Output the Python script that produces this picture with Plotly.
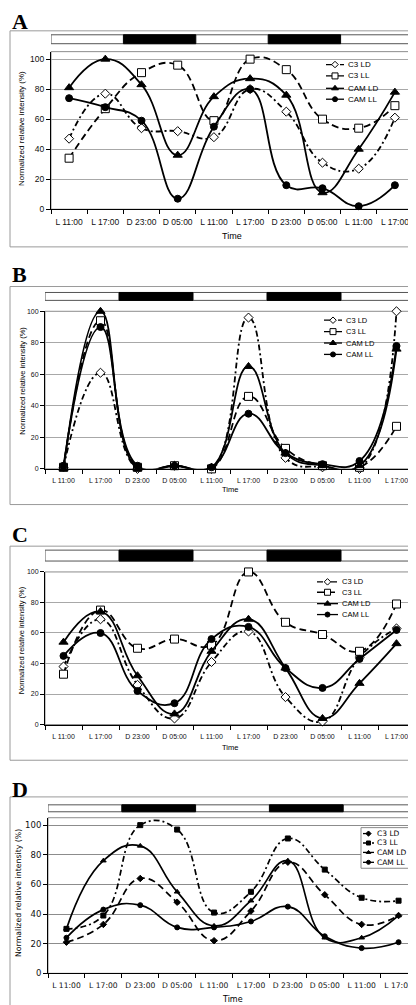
import plotly.graph_objects as go

W, H = 416, 1005

cats = ["L 11:00", "L 17:00", "D 23:00", "D 05:00", "L 11:00",
        "L 17:00", "D 23:00", "D 05:00", "L 11:00", "L 17:00"]
series_names = ["C3 LD", "C3 LL", "CAM LD", "CAM LL"]
y_ticks = [0, 20, 40, 60, 80, 100]

# Panel A
a_c3_ld = [47, 77, 54, 52, 48, 80, 65, 31, 27, 61]
a_c3_ll = [34, 67, 91, 96, 59, 100, 93, 60, 54, 69]
a_cam_ld = [81, 100, 83, 36, 75, 87, 76, 11, 40, 78]
a_cam_ll = [74, 68, 59, 7, 55, 80, 16, 14, 2, 16]
# Panel B
b_c3_ld = [1, 61, 0, 2, 0, 96, 7, 1, 0, 100]
b_c3_ll = [1, 94, 1, 2, 0, 46, 13, 2, 1, 27]
b_cam_ld = [0, 100, 0, 2, 1, 65, 10, 2, 2, 76]
b_cam_ll = [2, 90, 2, 2, 1, 35, 10, 3, 5, 78]
# Panel C
c_c3_ld = [38, 69, 26, 4, 41, 61, 18, 2, 44, 63]
c_c3_ll = [33, 75, 50, 56, 52, 100, 67, 59, 48, 79]
c_cam_ld = [54, 74, 32, 7, 48, 69, 37, 4, 27, 53]
c_cam_ll = [45, 60, 22, 14, 56, 64, 37, 24, 43, 62]
# Panel D
d_c3_ld = [21, 33, 64, 48, 22, 42, 75, 53, 33, 39]
d_c3_ll = [30, 39, 100, 97, 41, 55, 91, 70, 51, 49]
d_cam_ld = [30, 76, 86, 55, 32, 49, 76, 24, 24, 39]
d_cam_ll = [24, 43, 46, 31, 31, 35, 45, 25, 17, 21]

xs = list(range(len(cats)))

style_big = {
    "C3 LD": dict(dash="6px,3px,2px,3px", symbol="diamond", size=7, fill="white", width=1.8),
    "C3 LL": dict(dash="7px,4px", symbol="square", size=8, fill="white", width=1.8),
    "CAM LD": dict(dash="solid", symbol="triangle-up", size=8, fill="black", width=1.8),
    "CAM LL": dict(dash="solid", symbol="circle", size=7, fill="black", width=1.8),
}
style_small = {
    "C3 LD": dict(dash="7px,4px", symbol="diamond", size=5, fill="black", width=1.7),
    "C3 LL": dict(dash="6px,3px,2px,3px", symbol="square", size=5, fill="black", width=1.7),
    "CAM LD": dict(dash="solid", symbol="triangle-up", size=5, fill="black", width=1.7),
    "CAM LL": dict(dash="solid", symbol="circle", size=5, fill="black", width=1.7),
}

panels = [
    dict(letter="A", data=[a_c3_ld, a_c3_ll, a_cam_ld, a_cam_ll], plot=(43, 405, 40, 199), ymax=105,
         box=(19, 237), bar=(23, 32), letter_y=10, time_y=226, ytitle=(14, 118),
         font="Liberation Sans", tick=8.5, ytick=8.5, ttl=8, time=9, leg=8, style=style_big,
         legend=dict(x0=318, x1=336, tx=338, ys=[53, 64.5, 77, 88], box=None), grid="#a8a8a8"),
    dict(letter="B", data=[b_c3_ld, b_c3_ll, b_cam_ld, b_cam_ll], plot=(37, 407, 302, 461), ymax=100,
         box=(277, 497), bar=(283, 291), letter_y=265, time_y=482, ytitle=(15, 372),
         font="Liberation Sans", tick=7, ytick=7, ttl=7.5, time=7.5, leg=7.5, style=style_big,
         legend=dict(x0=316, x1=334, tx=336, ys=[311, 322.5, 334, 345.5], box=None), grid="#a8a8a8"),
    dict(letter="C", data=[c_c3_ld, c_c3_ll, c_cam_ld, c_cam_ll], plot=(37, 407, 565, 719), ymax=100,
         box=(539, 755), bar=(543, 554), letter_y=527, time_y=742, ytitle=(13, 634),
         font="Liberation Sans", tick=7, ytick=7, ttl=7.5, time=7.5, leg=7.5, style=style_big,
         legend=dict(x0=309, x1=330, tx=332, ys=[575, 585.5, 597, 608], box=None), grid="#a8a8a8"),
    dict(letter="D", data=[d_c3_ld, d_c3_ll, d_cam_ld, d_cam_ll], plot=(40, 409, 813, 970), ymax=105,
         box=(792, 1003), bar=(800, 807), letter_y=785, time_y=996, ytitle=(10, 889),
         font="DejaVu Sans", tick=7.6, ytick=8.5, ttl=7.8, time=8, leg=7.5, style=style_small,
         legend=dict(x0=355, x1=366, tx=367, ys=[829, 838.5, 848, 858], box=(353, 402, 823, 864)), grid="#8c8c8c"),
]

fig = go.Figure()

OV_X, OV_Y = "x5", "y5"
layout = dict(
    width=W, height=H, margin=dict(l=0, r=0, t=0, b=0),
    paper_bgcolor="white", plot_bgcolor="rgba(0,0,0,0)", showlegend=False,
    xaxis5=dict(domain=[0, 1], range=[0, W], visible=False, anchor="y5", fixedrange=True),
    yaxis5=dict(domain=[0, 1], range=[H, 0], visible=False, anchor="x5", fixedrange=True),
)
shapes = []
annotations = []
overlay_traces = []

# contiguous dark periods from the category labels
dark_runs = []
k = 0
while k < len(cats):
    if cats[k].startswith("D"):
        s = k
        while k + 1 < len(cats) and cats[k + 1].startswith("D"):
            k += 1
        dark_runs.append((s - 0.5, k + 0.5))
    k += 1

for i, p in enumerate(panels):
    n = i + 1
    xa = "xaxis" if n == 1 else f"xaxis{n}"
    ya = "yaxis" if n == 1 else f"yaxis{n}"
    xr = "x" if n == 1 else f"x{n}"
    yr = "y" if n == 1 else f"y{n}"
    x0, x1, y0, y1 = p["plot"]
    font = p["font"]
    layout[xa] = dict(
        domain=[x0 / W, x1 / W], anchor=yr, range=[-0.5, len(cats) - 0.5],
        tickmode="array", tickvals=xs, ticktext=cats, ticks="", showgrid=False,
        showline=True, linecolor="black", linewidth=1, zeroline=False, tickangle=0,
        tickfont=dict(family=font, size=p["tick"], color="#111"), ticklabelstandoff=5,
        minor=dict(tickvals=[k - 0.5 for k in range(len(cats) + 1)], ticks="outside",
                   ticklen=4, tickcolor="black", showgrid=False),
        fixedrange=True,
    )
    layout[ya] = dict(
        domain=[1 - y1 / H, 1 - y0 / H], anchor=xr, range=[0, p["ymax"]],
        tickmode="array", tickvals=y_ticks, ticks="outside", ticklen=4, tickcolor="black",
        showgrid=True, gridcolor=p["grid"], gridwidth=1, zeroline=False,
        showline=True, linecolor="black", linewidth=1,
        tickfont=dict(family=font, size=p["ytick"], color="#111"), fixedrange=True,
    )
    # plot-area border
    shapes.append(dict(type="rect", xref=f"{xr} domain", yref=f"{yr} domain", x0=0, x1=1, y0=0, y1=1,
                       line=dict(color="#8c8c8c", width=1), layer="below"))
    # outer box
    bt, bb = p["box"]
    shapes.append(dict(type="rect", xref=OV_X, yref=OV_Y, x0=2, x1=414, y0=bt, y1=bb,
                       line=dict(color="#9a9a9a", width=1)))
    # light/dark bar
    r0, r1 = p["bar"]
    shapes.append(dict(type="rect", xref=xr, yref=OV_Y, x0=-0.5, x1=len(cats) - 0.5, y0=r0, y1=r1,
                       line=dict(color="#555", width=1), fillcolor="white"))
    for (d0, d1) in dark_runs:
        shapes.append(dict(type="rect", xref=xr, yref=OV_Y, x0=d0, x1=d1, y0=r0, y1=r1,
                           line=dict(color="black", width=1), fillcolor="black"))
    # data traces
    for name, vals in zip(series_names, p["data"]):
        st = p["style"][name]
        fig.add_trace(go.Scatter(
            x=xs, y=vals, xaxis=xr, yaxis=yr, name=name, mode="lines+markers",
            line=dict(color="black", width=st["width"], dash=st["dash"], shape="spline", smoothing=1.3),
            marker=dict(symbol=st["symbol"], size=st["size"], color=st["fill"],
                        line=dict(color="black", width=1)),
            cliponaxis=False, hoverinfo="skip",
        ))
    # legend (manual, compact)
    lg = p["legend"]
    if lg["box"]:
        bx0, bx1, by0, by1 = lg["box"]
        overlay_traces.append(go.Scatter(
            x=[bx0, bx1, bx1, bx0, bx0], y=[by0, by0, by1, by1, by0], xaxis=OV_X, yaxis=OV_Y,
            mode="lines", fill="toself", fillcolor="white", line=dict(color="#888", width=1),
            hoverinfo="skip"))
    for name, ly in zip(series_names, lg["ys"]):
        st = p["style"][name]
        overlay_traces.append(go.Scatter(
            x=[lg["x0"], lg["x1"]], y=[ly, ly], xaxis=OV_X, yaxis=OV_Y, mode="lines",
            line=dict(color="black", width=1.3, dash=st["dash"]), hoverinfo="skip"))
        overlay_traces.append(go.Scatter(
            x=[(lg["x0"] + lg["x1"]) / 2], y=[ly], xaxis=OV_X, yaxis=OV_Y, mode="markers",
            marker=dict(symbol=st["symbol"], size=max(st["size"] - 2, 4), color=st["fill"],
                        line=dict(color="black", width=1)), hoverinfo="skip"))
        annotations.append(dict(xref=OV_X, yref=OV_Y, x=lg["tx"], y=ly, text=name, showarrow=False,
                                xanchor="left", yanchor="middle",
                                font=dict(family=font, size=p["leg"], color="black")))
    # letter
    annotations.append(dict(xref=OV_X, yref=OV_Y, x=2, y=p["letter_y"], text=f"<b>{p['letter']}</b>",
                            showarrow=False, xanchor="left", yanchor="middle",
                            font=dict(family="Liberation Serif", size=22, color="black")))
    # axis titles
    annotations.append(dict(xref=OV_X, yref=OV_Y, x=(x0 + x1) / 2, y=p["time_y"], text="Time",
                            showarrow=False, xanchor="center", yanchor="middle",
                            font=dict(family=font, size=p["time"], color="black")))
    annotations.append(dict(xref=OV_X, yref=OV_Y, x=p["ytitle"][0], y=p["ytitle"][1],
                            text="Normalized relative intensity (%)", textangle=-90,
                            showarrow=False, xanchor="center", yanchor="middle",
                            font=dict(family=font, size=p["ttl"], color="black")))

for t in overlay_traces:
    fig.add_trace(t)

layout["shapes"] = shapes
layout["annotations"] = annotations
fig.update_layout(**layout)
fig.write_html("out.html")
